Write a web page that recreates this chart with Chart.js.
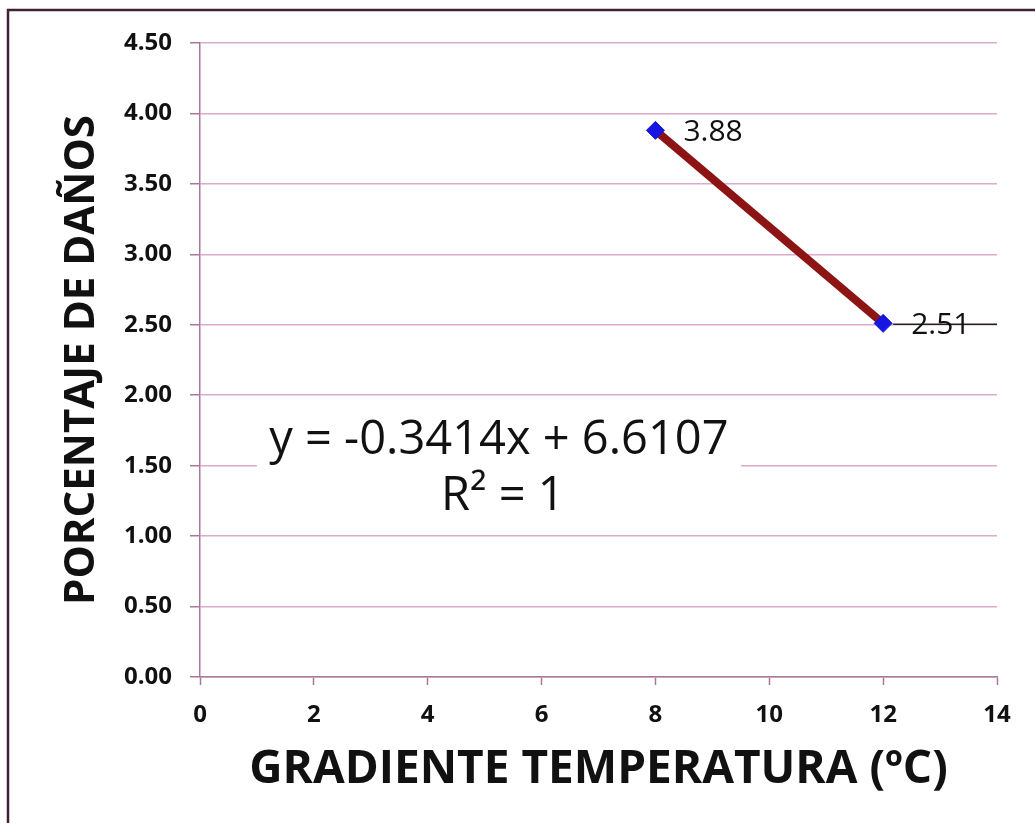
<!DOCTYPE html>
<html>
<head>
<meta charset="utf-8">
<script src="https://cdn.jsdelivr.net/npm/chart.js@4.4.0/dist/chart.umd.min.js"></script>
<style>
  html, body { margin: 0; padding: 0; background: #ffffff; }
  #wrap { width: 1035px; height: 823px; position: relative; }
</style>
</head>
<body>
<div id="wrap"><canvas id="chart"></canvas></div>
<script>
// Data
const gradiente = [8, 12];
const porcentaje = [3.88, 2.51];
const xTicks = [0, 2, 4, 6, 8, 10, 12, 14];
const yTicks = [0, 0.5, 1, 1.5, 2, 2.5, 3, 3.5, 4, 4.5];
const equationLines = ['y = -0.3414x + 6.6107', 'R² = 1'];

const gridColor = '#dcaacb';
const axisColor = '#a8789a';
const fontFamily = "'Open Sans', 'DejaVu Sans', sans-serif";

// Frame around the whole picture
const framePlugin = {
    id: 'frame',
    beforeDraw(chart) {
        const ctx = chart.ctx;
        ctx.save();
        ctx.fillStyle = '#ffffff';
        ctx.fillRect(0, 0, chart.width, chart.height);
        ctx.strokeStyle = '#3f2035';
        ctx.lineWidth = 2.5;
        ctx.strokeRect(8, 10, chart.width + 20, chart.height + 20);
        ctx.restore();
    }
};

// Value labels next to each point, plus the trendline equation box
const labelPlugin = {
    id: 'labels',
    afterDatasetsDraw(chart) {
        const ctx = chart.ctx;
        const meta = chart.getDatasetMeta(0);
        const xScale = chart.scales.x;
        const yScale = chart.scales.y;
        ctx.save();

        // dark leader line through the last label
        const last = meta.data[meta.data.length - 1];
        ctx.strokeStyle = '#222222';
        ctx.lineWidth = 1.5;
        ctx.beginPath();
        ctx.moveTo(last.x + 10, last.y + 1);
        ctx.lineTo(chart.chartArea.right, last.y + 1);
        ctx.stroke();

        ctx.font = '30px ' + fontFamily;
        ctx.fillStyle = '#111111';
        ctx.textAlign = 'left';
        ctx.textBaseline = 'middle';
        meta.data.forEach((pt, i) => {
            ctx.fillText(porcentaje[i].toFixed(2), pt.x + 28, pt.y + 2);
        });

        // equation box
        const cx = xScale.getPixelForValue(5.25);
        const boxTop = yScale.getPixelForValue(1.85);
        const boxBottom = yScale.getPixelForValue(1.08);
        ctx.fillStyle = '#ffffff';
        ctx.fillRect(cx - 242, boxTop, 484, boxBottom - boxTop);
        ctx.font = '47px ' + fontFamily;
        ctx.fillStyle = '#111111';
        ctx.textAlign = 'center';
        ctx.fillText(equationLines[0], cx, yScale.getPixelForValue(1.68));
        ctx.fillText(equationLines[1], cx + 4, yScale.getPixelForValue(1.28));
        ctx.restore();
    }
};

const ctx = document.getElementById('chart').getContext('2d');
const chart = new Chart(ctx, {
    type: 'scatter',
    data: {
        datasets: [{
            data: gradiente.map((x, i) => ({ x: x, y: porcentaje[i] })),
            showLine: true,
            borderColor: '#8c1414',
            borderWidth: 8,
            pointStyle: 'rectRot',
            pointRadius: 9,
            pointBackgroundColor: '#1616e0',
            pointBorderColor: '#1616e0',
            pointBorderWidth: 1
        }]
    },
    options: {
        responsive: true,
        maintainAspectRatio: false,
        animation: false,
        layout: { padding: { left: 0, right: 38, top: 43, bottom: 0 } },
        plugins: {
            legend: { display: false },
            tooltip: { enabled: false }
        },
        scales: {
            x: {
                type: 'linear',
                min: 0,
                max: 14,
                afterBuildTicks(scale) {
                    scale.ticks = xTicks.map(v => ({ value: v }));
                },
                afterFit(scale) { scale.height = 146; },
                ticks: {
                    color: '#111111',
                    padding: 16,
                    font: { family: fontFamily, size: 24, weight: 'bold' }
                },
                grid: {
                    drawOnChartArea: false,
                    drawTicks: true,
                    tickLength: 8,
                    tickColor: axisColor,
                    tickWidth: 1.5
                },
                border: { color: axisColor, width: 1.5 },
                title: {
                    display: true,
                    text: 'GRADIENTE TEMPERATURA (ºC)',
                    color: '#111111',
                    font: { family: fontFamily, size: 46, weight: 'bold' },
                    padding: { top: 0, bottom: 26 }
                }
            },
            y: {
                type: 'linear',
                min: 0,
                max: 4.5,
                afterBuildTicks(scale) {
                    scale.ticks = yTicks.map(v => ({ value: v }));
                },
                afterFit(scale) { scale.width = 200; },
                ticks: {
                    color: '#111111',
                    padding: 18,
                    font: { family: fontFamily, size: 24, weight: 'bold' },
                    callback: v => v.toFixed(2)
                },
                grid: {
                    color: gridColor,
                    lineWidth: 1.5,
                    tickLength: 10,
                    tickColor: axisColor
                },
                border: { color: axisColor, width: 1.5 },
                title: {
                    display: true,
                    text: 'PORCENTAJE DE DAÑOS',
                    color: '#111111',
                    font: { family: fontFamily, size: 42, weight: 'bold' },
                    padding: { top: 57, bottom: 0 }
                }
            }
        }
    },
    plugins: [framePlugin, labelPlugin]
});
</script>
</body>
</html>
